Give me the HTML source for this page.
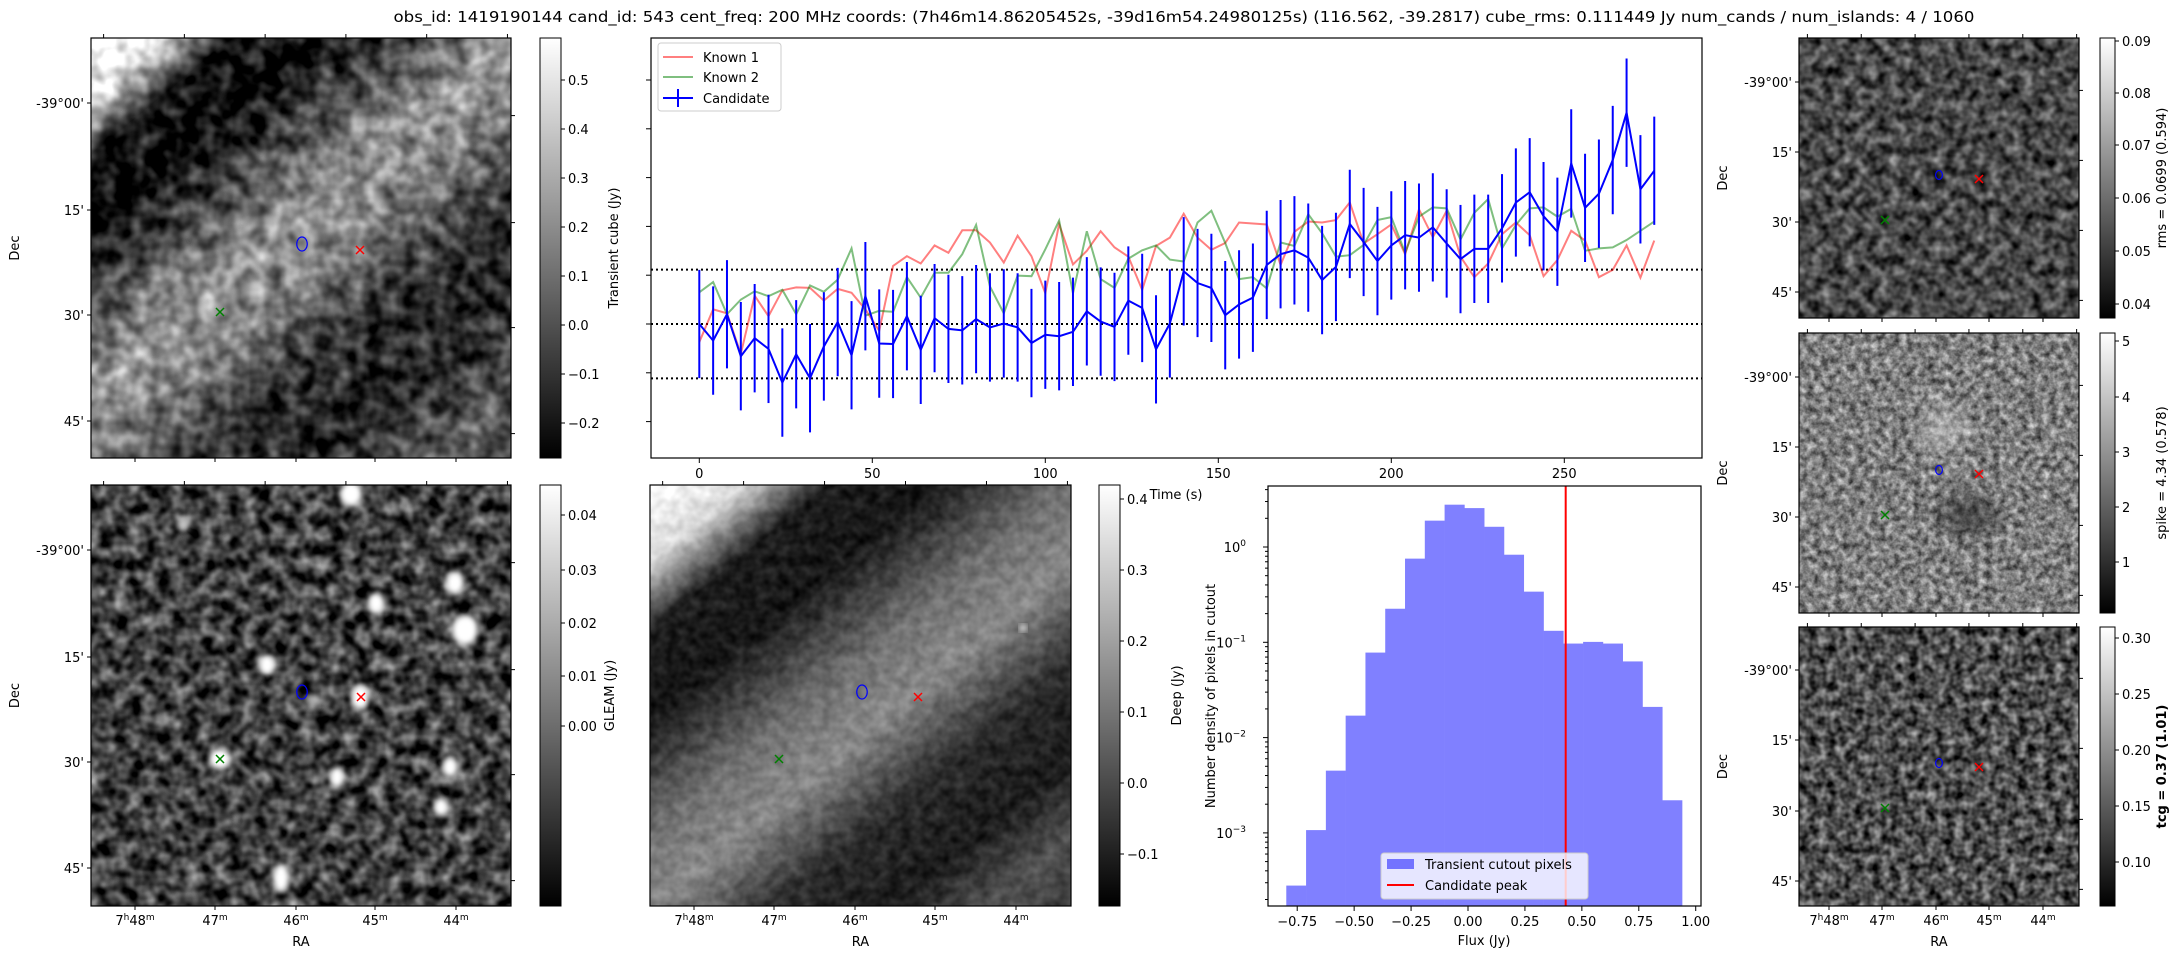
<!DOCTYPE html>
<html><head><meta charset="utf-8"><title>Transient candidate 543</title>
<style>
html,body{margin:0;padding:0;background:#fff;}
svg{display:block;font-family:"DejaVu Sans","Liberation Sans",sans-serif;}
</style></head>
<body>
<svg id="fig" width="2184" height="960" viewBox="0 0 2184 960" xmlns="http://www.w3.org/2000/svg">
<defs>
  <linearGradient id="cbgrad" x1="0" y1="1" x2="0" y2="0"><stop offset="0" stop-color="#000"/><stop offset="1" stop-color="#fff"/></linearGradient>
  <linearGradient id="gTL" gradientUnits="userSpaceOnUse" x1="91" y1="38" x2="471" y2="498">
    <stop offset="0" stop-color="#fff"/><stop offset="0.08" stop-color="#f0f0f0"/><stop offset="0.15" stop-color="#202020"/><stop offset="0.24" stop-color="#080808"/><stop offset="0.33" stop-color="#4a4a4a"/><stop offset="0.46" stop-color="#a0a0a0"/><stop offset="0.56" stop-color="#7a7a7a"/><stop offset="0.66" stop-color="#333"/><stop offset="0.78" stop-color="#2a2a2a"/><stop offset="0.9" stop-color="#606060"/><stop offset="1" stop-color="#3a3a3a"/>
  </linearGradient>
  <linearGradient id="gDP" gradientUnits="userSpaceOnUse" x1="650" y1="485" x2="1030" y2="946">
    <stop offset="0" stop-color="#fff"/><stop offset="0.1" stop-color="#d8d8d8"/><stop offset="0.19" stop-color="#1c1c1c"/><stop offset="0.3" stop-color="#151515"/><stop offset="0.45" stop-color="#707070"/><stop offset="0.55" stop-color="#888"/><stop offset="0.68" stop-color="#2a2a2a"/><stop offset="0.8" stop-color="#1a1a1a"/><stop offset="0.9" stop-color="#505050"/><stop offset="1" stop-color="#3a3a3a"/>
  </linearGradient>
  <filter id="nTL" x="0" y="0" width="1" height="1" color-interpolation-filters="sRGB"><feTurbulence type="fractalNoise" baseFrequency="0.06" numOctaves="2" seed="3" result="t"/><feColorMatrix in="t" type="matrix" values="1 0 0 0 0 1 0 0 0 0 1 0 0 0 0 0 0 0 0 1" result="g"/><feComposite in="SourceGraphic" in2="g" operator="arithmetic" k2="1" k3="0.8" k4="-0.42"/></filter>
  <filter id="nGL" x="0" y="0" width="1" height="1" color-interpolation-filters="sRGB"><feTurbulence type="fractalNoise" baseFrequency="0.07" numOctaves="2" seed="7" result="t"/><feColorMatrix in="t" type="matrix" values="1 0 0 0 0 1 0 0 0 0 1 0 0 0 0 0 0 0 0 1" result="g"/><feComposite in="SourceGraphic" in2="g" operator="arithmetic" k2="1" k3="1.1" k4="-0.58"/></filter>
  <filter id="nDP" x="0" y="0" width="1" height="1" color-interpolation-filters="sRGB"><feTurbulence type="fractalNoise" baseFrequency="0.09" numOctaves="2" seed="11" result="t"/><feColorMatrix in="t" type="matrix" values="1 0 0 0 0 1 0 0 0 0 1 0 0 0 0 0 0 0 0 1" result="g"/><feComposite in="SourceGraphic" in2="g" operator="arithmetic" k2="1" k3="0.25" k4="-0.12"/></filter>
  <filter id="nR1" x="0" y="0" width="1" height="1" color-interpolation-filters="sRGB"><feTurbulence type="fractalNoise" baseFrequency="0.09" numOctaves="2" seed="21" result="t"/><feColorMatrix in="t" type="matrix" values="1 0 0 0 0 1 0 0 0 0 1 0 0 0 0 0 0 0 0 1" result="g"/><feComposite in="SourceGraphic" in2="g" operator="arithmetic" k2="1" k3="0.9" k4="-0.45"/></filter>
  <filter id="nR2" x="0" y="0" width="1" height="1" color-interpolation-filters="sRGB"><feTurbulence type="fractalNoise" baseFrequency="0.14" numOctaves="3" seed="31" result="t"/><feColorMatrix in="t" type="matrix" values="1 0 0 0 0 1 0 0 0 0 1 0 0 0 0 0 0 0 0 1" result="g"/><feComposite in="SourceGraphic" in2="g" operator="arithmetic" k2="1" k3="0.9" k4="-0.45"/></filter>
  <filter id="nR3" x="0" y="0" width="1" height="1" color-interpolation-filters="sRGB"><feTurbulence type="fractalNoise" baseFrequency="0.11" numOctaves="2" seed="41" result="t"/><feColorMatrix in="t" type="matrix" values="1 0 0 0 0 1 0 0 0 0 1 0 0 0 0 0 0 0 0 1" result="g"/><feComposite in="SourceGraphic" in2="g" operator="arithmetic" k2="1" k3="1.0" k4="-0.5"/></filter>
  <filter id="blur4"><feGaussianBlur stdDeviation="3"/></filter>
  <filter id="blur10"><feGaussianBlur stdDeviation="10"/></filter>
  <clipPath id="cGL"><rect x="91" y="485" width="420" height="421"/></clipPath>
  <clipPath id="cSP"><rect x="1799" y="333" width="280" height="280"/></clipPath>
  <clipPath id="cTS"><rect x="651" y="38" width="1051" height="420"/></clipPath>
</defs>

<text x="1184" y="22" font-size="15" text-anchor="middle" textLength="1581" lengthAdjust="spacingAndGlyphs">obs_id: 1419190144 cand_id: 543 cent_freq: 200 MHz coords: (7h46m14.86205452s, -39d16m54.24980125s) (116.562, -39.2817) cube_rms: 0.111449 Jy num_cands / num_islands: 4 / 1060</text>

<g>
  <rect x="91" y="38" width="420" height="420" fill="url(#gTL)" filter="url(#nTL)"/>
  <rect x="91" y="38" width="420" height="420" fill="none" stroke="#000" stroke-width="1.2"/>
</g>
<g>
  <rect x="91" y="485" width="420" height="421" fill="#484848" filter="url(#nGL)"/>
  <g clip-path="url(#cGL)" filter="url(#blur4)" fill="#fff">
    <ellipse cx="351" cy="494" rx="11" ry="12"/><ellipse cx="455" cy="583" rx="9" ry="11"/><ellipse cx="376" cy="603" rx="8" ry="10"/>
    <ellipse cx="465" cy="630" rx="13" ry="15"/><ellipse cx="267" cy="665" rx="8" ry="10"/><ellipse cx="360" cy="697" rx="9" ry="12"/>
    <ellipse cx="220" cy="759" rx="11" ry="10"/><ellipse cx="337" cy="777" rx="7" ry="10"/><ellipse cx="450" cy="767" rx="8" ry="10"/>
    <ellipse cx="441" cy="807" rx="7" ry="9"/><ellipse cx="281" cy="878" rx="8" ry="14"/><ellipse cx="184" cy="525" rx="6" ry="7" opacity="0.6"/>
    <ellipse cx="313" cy="700" rx="6" ry="7" opacity="0.6"/>
  </g>
  <rect x="91" y="485" width="420" height="421" fill="none" stroke="#000" stroke-width="1.2"/>
</g>
<g>
  <rect x="650" y="485" width="421" height="421" fill="url(#gDP)" filter="url(#nDP)"/>
  <circle cx="1023" cy="628" r="4" fill="#ddd" filter="url(#blur4)"/>
  <rect x="650" y="485" width="421" height="421" fill="none" stroke="#000" stroke-width="1.2"/>
</g>
<g>
  <rect x="1799" y="38" width="280" height="280" fill="#484848" filter="url(#nR1)"/>
  <rect x="1799" y="38" width="280" height="280" fill="none" stroke="#000" stroke-width="1.2"/>
</g>
<g>
  <rect x="1799" y="333" width="280" height="280" fill="#7e7e7e" filter="url(#nR2)"/>
  <g clip-path="url(#cSP)" filter="url(#blur10)">
    <ellipse cx="1968" cy="515" rx="30" ry="16" fill="#111" opacity="0.6"/>
    <ellipse cx="1944" cy="428" rx="25" ry="22" fill="#eee" opacity="0.4"/>
  </g>
  <rect x="1799" y="333" width="280" height="280" fill="none" stroke="#000" stroke-width="1.2"/>
</g>
<g>
  <rect x="1799" y="627" width="280" height="279" fill="#4e4e4e" filter="url(#nR3)"/>
  <rect x="1799" y="627" width="280" height="279" fill="none" stroke="#000" stroke-width="1.2"/>
</g>

<g id="imgdeco"></g>

<g id="ts">
  <rect x="651" y="38" width="1051" height="420" fill="none" stroke="#000" stroke-width="1.2"/>
  <g id="tsmarks" clip-path="url(#cTS)"></g>
  <g id="tsaxis"></g>
  <text x="1176" y="499" font-size="13" text-anchor="middle">Time (s)</text>
  <g>
    <rect x="658" y="43" width="123" height="68" rx="3" fill="#fff" fill-opacity="0.8" stroke="#ccc"/>
    <line x1="663" y1="57" x2="693" y2="57" stroke="#ff0000" stroke-opacity="0.5" stroke-width="2"/>
    <text x="703" y="62" font-size="13">Known 1</text>
    <line x1="663" y1="77" x2="693" y2="77" stroke="#008000" stroke-opacity="0.5" stroke-width="2"/>
    <text x="703" y="82" font-size="13">Known 2</text>
    <line x1="663" y1="98" x2="693" y2="98" stroke="#0000ff" stroke-width="2"/>
    <line x1="678" y1="89" x2="678" y2="107" stroke="#0000ff" stroke-width="2"/>
    <text x="703" y="103" font-size="13">Candidate</text>
  </g>
</g>

<g id="hist">
  <g id="histmarks"></g>
  <rect x="1268" y="486" width="433" height="420" fill="none" stroke="#000" stroke-width="1.2"/>
  <g id="histaxis"></g>
  <text x="1484" y="945" font-size="13" text-anchor="middle">Flux (Jy)</text>
  <text transform="translate(1215,696) rotate(-90)" font-size="13" text-anchor="middle">Number density of pixels in cutout</text>
  <g>
    <rect x="1381" y="853" width="207" height="46" rx="3" fill="#fff" fill-opacity="0.8" stroke="#ccc"/>
    <rect x="1387" y="859" width="27" height="10" fill="#0000ff" fill-opacity="0.5"/>
    <text x="1425" y="869" font-size="13">Transient cutout pixels</text>
    <line x1="1387" y1="885" x2="1414" y2="885" stroke="#ff0000" stroke-width="2"/>
    <text x="1425" y="890" font-size="13">Candidate peak</text>
  </g>
</g>

<script>
// ---------- Light curve data ----------
const times = [0,4,8,12,16,20,24,28,32,36,40,44,48,52,56,60,64,68,72,76,80,84,88,92,96,100,104,108,112,116,120,124,128,132,136,140,144,148,152,156,160,164,168,172,176,180,184,188,192,196,200,204,208,212,216,220,224,228,232,236,240,244,248,252,256,260,264,268,272,276];
const candidateFlux = [0.0,-0.034,0.02,-0.066,-0.029,-0.051,-0.12,-0.062,-0.111,-0.046,0.004,-0.064,0.057,-0.04,-0.041,0.016,-0.053,0.012,-0.01,-0.013,0.01,-0.007,0.001,-0.007,-0.039,-0.022,-0.025,-0.016,0.026,0.005,-0.006,0.048,0.033,-0.052,0.001,0.108,0.084,0.074,0.018,0.040,0.054,0.121,0.143,0.151,0.136,0.09,0.117,0.205,0.168,0.129,0.161,0.182,0.177,0.198,0.165,0.133,0.154,0.154,0.196,0.249,0.27,0.221,0.189,0.329,0.238,0.267,0.336,0.433,0.276,0.314];
const candidateErr = [0.111,0.111,0.111,0.111,0.111,0.111,0.111,0.111,0.111,0.111,0.111,0.111,0.111,0.111,0.111,0.111,0.111,0.111,0.111,0.111,0.111,0.111,0.111,0.111,0.111,0.111,0.111,0.111,0.111,0.111,0.111,0.111,0.111,0.111,0.111,0.111,0.111,0.111,0.111,0.111,0.111,0.111,0.111,0.111,0.111,0.111,0.111,0.111,0.111,0.111,0.111,0.111,0.111,0.111,0.111,0.111,0.111,0.111,0.111,0.111,0.111,0.111,0.111,0.111,0.111,0.111,0.111,0.111,0.111,0.111];
const known1Flux = [-0.037,0.03,0.022,-0.061,0.058,0.016,0.069,0.075,0.074,0.048,0.072,0.064,0.030,-0.014,0.119,0.139,0.124,0.161,0.146,0.192,0.192,0.167,0.126,0.181,0.139,0.063,0.205,0.122,0.15,0.19,0.157,0.138,0.070,0.16,0.177,0.226,0.177,0.152,0.166,0.208,0.206,0.204,0.121,0.189,0.21,0.208,0.213,0.249,0.165,0.184,0.204,0.143,0.235,0.178,0.232,0.138,0.096,0.124,0.184,0.208,0.182,0.098,0.131,0.191,0.171,0.096,0.111,0.161,0.095,0.171];
const known2Flux = [0.065,0.086,0.02,0.05,0.067,0.057,0.07,0.02,0.079,0.066,0.091,0.155,0.017,0.027,0.025,0.096,0.054,0.105,0.105,0.143,0.203,0.077,0.022,0.099,0.098,0.153,0.212,0.063,0.19,0.092,0.074,0.134,0.151,0.161,0.132,0.128,0.208,0.232,0.166,0.092,0.096,0.073,0.167,0.16,0.225,0.186,0.138,0.141,0.162,0.213,0.219,0.146,0.22,0.239,0.237,0.173,0.228,0.256,0.155,0.203,0.237,0.239,0.22,0.236,0.15,0.155,0.157,0.172,0.191,0.21];
const rmsLevels = [0.111449, 0, -0.111449];
const tsXTicks = [0,50,100,150,200,250];
const tsYTicks = [-0.2,-0.1,0,0.1,0.2,0.3,0.4,0.5];

// ---------- Histogram data ----------
const binStart = -0.798;
const binWidth = 0.0869;
const binDensity = [0.00028,0.00107,0.0045,0.017,0.078,0.225,0.755,1.89,2.78,2.56,1.63,0.83,0.34,0.132,0.097,0.101,0.097,0.063,0.021,0.0022];
const candidatePeak = 0.429;
const histXTicks = [-0.75,-0.5,-0.25,0,0.25,0.5,0.75,1.0];
const histXLabels = ["\u22120.75","\u22120.50","\u22120.25","0.00","0.25","0.50","0.75","1.00"];
const histYExp = [0,-1,-2,-3];

const NS = "http://www.w3.org/2000/svg";
function mk(tag, attrs, parent){ const e=document.createElementNS(NS,tag); for(const k in attrs) e.setAttribute(k,attrs[k]); parent.appendChild(e); return e; }

const tsX = t => 699.3 + 3.46*t;
const tsY = v => 324 - 488*v;
const hX = f => 1468 + 398.5/1.75*f;
const hY = d => 547 - 95.3*Math.log10(d);

const tm = document.getElementById('tsmarks');
rmsLevels.forEach(v=>{
  const l = mk('line',{x1:651,x2:1702,y1:tsY(v),y2:tsY(v),stroke:'#000','stroke-width':2,'stroke-dasharray':'2 3'},tm);
  
  
});
function poly(vals, color, op, name){
  const p = mk('polyline',{points: vals.map((v,i)=>tsX(times[i])+','+tsY(v)).join(' '),fill:'none',stroke:color,'stroke-opacity':op,'stroke-width':2},tm);
  
  
}
poly(known1Flux,'#ff0000',0.5,'known-1-line');
poly(known2Flux,'#008000',0.5,'known-2-line');
candidateFlux.forEach((v,i)=>{
  const e = mk('line',{x1:tsX(times[i]),x2:tsX(times[i]),y1:tsY(v-candidateErr[i]),y2:tsY(v+candidateErr[i]),stroke:'#0000ff','stroke-width':2},tm);
  
  
});
poly(candidateFlux,'#0000ff',1,'candidate-line');

const ta = document.getElementById('tsaxis');
tsXTicks.forEach(t=>{
  mk('line',{x1:tsX(t),x2:tsX(t),y1:458,y2:463,stroke:'#000'},ta);
  const tx = mk('text',{x:tsX(t),y:478,'font-size':13,'text-anchor':'middle'},ta);
  tx.textContent = t;
  
  
});
tsYTicks.forEach(v=>{
  const l = mk('line',{x1:646,x2:651,y1:tsY(v),y2:tsY(v),stroke:'#000'},ta);
  
  
});

const hm = document.getElementById('histmarks');
binDensity.forEach((d,i)=>{
  const x0 = hX(binStart+i*binWidth), x1 = hX(binStart+(i+1)*binWidth);
  const r = mk('rect',{x:x0,y:hY(d),width:x1-x0+0.3,height:906-hY(d),fill:'#8080ff'},hm);
  
  
});
const pk = mk('line',{x1:hX(candidatePeak),x2:hX(candidatePeak),y1:486,y2:906,stroke:'#ff0000','stroke-width':2},hm);


const ha = document.getElementById('histaxis');
histXTicks.forEach((f,i)=>{
  mk('line',{x1:hX(f),x2:hX(f),y1:906,y2:911,stroke:'#000'},ha);
  const tx = mk('text',{x:hX(f),y:926,'font-size':13,'text-anchor':'middle'},ha);
  tx.textContent = histXLabels[i];
  
  
});
histYExp.forEach(e=>{
  const y = hY(Math.pow(10,e));
  mk('line',{x1:1263,x2:1268,y1:y,y2:y,stroke:'#000'},ha);
  const tx = mk('text',{x:1246,y:y+5,'font-size':13,'text-anchor':'end'},ha);
  tx.textContent = '10';
  const sup = mk('tspan',{dy:-6,'font-size':9},tx);
  sup.textContent = e<0 ? '\u2212'+(-e) : ''+e;
  
  
  for(let k=2;k<10;k++){ const ym=hY(k*Math.pow(10,e)); if(ym>486&&ym<906) mk('line',{x1:1265,x2:1268,y1:ym,y2:ym,stroke:'#000'},ha); }
  if(e===-3){ for(let k=2;k<10;k++){ const ym=hY(k*1e-4); if(ym>486&&ym<906) mk('line',{x1:1265,x2:1268,y1:ym,y2:ym,stroke:'#000'},ha);} }
});

const deco = document.getElementById('imgdeco');
function text(x,y,s,size,anchor,name,extra){
  const t = mk('text',Object.assign({x:x,y:y,'font-size':size,'text-anchor':anchor},extra||{}),deco);
  t.textContent = s;
  
  
  return t;
}
function colorbar(x,y0,y1,w,ticks,labels,label,labelX,bold,name){
  const r = mk('rect',{x:x,y:y0,width:w,height:y1-y0,fill:'url(#cbgrad)',stroke:'#000','stroke-width':1},deco);
  
  
  ticks.forEach((ty,i)=>{
    mk('line',{x1:x+w,x2:x+w+4,y1:ty,y2:ty,stroke:'#000'},deco);
    text(x+w+7,ty+5,labels[i],13,'start','colorbar-tick-label');
  });
  const cy=(y0+y1)/2;
  const t = text(0,0,label,13,'middle',name+'-label',{transform:'translate('+labelX+','+cy+') rotate(-90)'});
  if(bold) t.setAttribute('font-weight','bold');
}
colorbar(540,38,458,21,[80,129,178,227,276,325,374,423],["0.5","0.4","0.3","0.2","0.1","0.0","\u22120.1","\u22120.2"],"Transient cube (Jy)",618,false,'transient-colorbar');
colorbar(540,485,906,21,[515,570,623,676,726],["0.04","0.03","0.02","0.01","0.00"],"GLEAM (Jy)",614,false,'gleam-colorbar');
colorbar(1099,485,906,21,[499,570,641,712,783,854],["0.4","0.3","0.2","0.1","0.0","\u22120.1"],"Deep (Jy)",1181,false,'deep-colorbar');
colorbar(2100,38,318,15,[41,93,145,198,251,304],["0.09","0.08","0.07","0.06","0.05","0.04"],"rms = 0.0699 (0.594)",2166,false,'rms-colorbar');
colorbar(2100,333,613,15,[341,397,452,507,562],["5","4","3","2","1"],"spike = 4.34 (0.578)",2166,false,'spike-colorbar');
colorbar(2100,627,906,15,[638,694,750,806,862],["0.30","0.25","0.20","0.15","0.10"],"tcg = 0.37 (1.01)",2166,true,'tcg-colorbar');

function imgAxes(x0,y0,w,h,decTicks,raTicks,raLabels,name,decTitle){
  const dl = ["-39\u00b000'","15'","30'","45'"];
  decTicks.forEach((y,i)=>{
    mk('line',{x1:x0-4,x2:x0,y1:y,y2:y,stroke:'#000'},deco);
    text(x0-7,y+5,dl[i],13,'end',name+'-dec-tick-label');
    mk('line',{x1:x0+w,x2:x0+w+4,y1:y+(h*0.03),y2:y+(h*0.03),stroke:'#000'},deco);
  });
  const step = w/5.2;
  for(let k=0;k<6;k++){ const xx=x0+w*0.03+k*step; mk('line',{x1:xx,x2:xx,y1:y0-4,y2:y0,stroke:'#000'},deco); }
  raTicks.forEach((x,i)=>{
    mk('line',{x1:x,x2:x,y1:y0+h,y2:y0+h+4,stroke:'#000'},deco);
    if(raLabels){
      const t=text(x,y0+h+19,'',13,'middle',name+'-ra-tick-label');
      const parts = raLabels[i];
      if(parts[0]){ t.appendChild(document.createTextNode('7')); const s=mk('tspan',{dy:-5,'font-size':9},t); s.textContent='h'; const b=mk('tspan',{dy:5},t); b.textContent='48'; const s2=mk('tspan',{dy:-5,'font-size':9},t); s2.textContent='m'; }
      else { t.appendChild(document.createTextNode(parts[1])); const s=mk('tspan',{dy:-5,'font-size':9},t); s.textContent='m'; }
    }
  });
  if(raLabels) text(x0+w/2,y0+h+40,'RA',13,'middle',name+'-ra-title');
  if(decTitle) text(0,0,'Dec',13,'middle',name+'-dec-title',{transform:'translate('+(x0-72)+','+(y0+h/2)+') rotate(-90)'});
}
const raL = [[1,''],[0,'47'],[0,'46'],[0,'45'],[0,'44']];
imgAxes(91,38,420,420,[103,210,315,421],[135,215,296,375,456],null,'transient',true);
imgAxes(91,485,420,421,[550,657,762,868],[135,215,296,375,456],raL,'gleam',true);
imgAxes(650,485,421,421,[],[694,774,855,935,1016],raL,'deep',false);
imgAxes(1799,38,280,280,[82,152,222,292],[1829,1882,1936,1989,2043],null,'rms',true);
imgAxes(1799,333,280,280,[377,447,517,587],[1829,1882,1936,1989,2043],null,'spike',true);
imgAxes(1799,627,280,279,[670,740,811,881],[1829,1882,1936,1989,2043],raL,'tcg',true);

function markers(b,r,g,sz,name){
  const c = mk('ellipse',{cx:b[0],cy:b[1],rx:sz*0.75,ry:sz,fill:'none',stroke:'#0000ff','stroke-width':1.2},deco);
  
  
  [[r,'#ff0000','-known1-marker'],[g,'#008000','-known2-marker']].forEach(([p,col,nm])=>{
    const gg = mk('path',{d:`M${p[0]-4},${p[1]-4}L${p[0]+4},${p[1]+4}M${p[0]-4},${p[1]+4}L${p[0]+4},${p[1]-4}`,stroke:col,'stroke-width':1.5},deco);
    
    
  });
}
markers([302,244],[360,250],[220,312],7,'transient');
markers([302,692],[361,697],[220,759],7,'gleam');
markers([862,692],[918,697],[779,759],7,'deep');
markers([1939,175],[1979,179],[1885,220],4.5,'rms');
markers([1939,470],[1979,474],[1885,515],4.5,'spike');
markers([1939,763],[1979,767],[1885,808],4.5,'tcg');
</script>
</svg>
</body></html>
